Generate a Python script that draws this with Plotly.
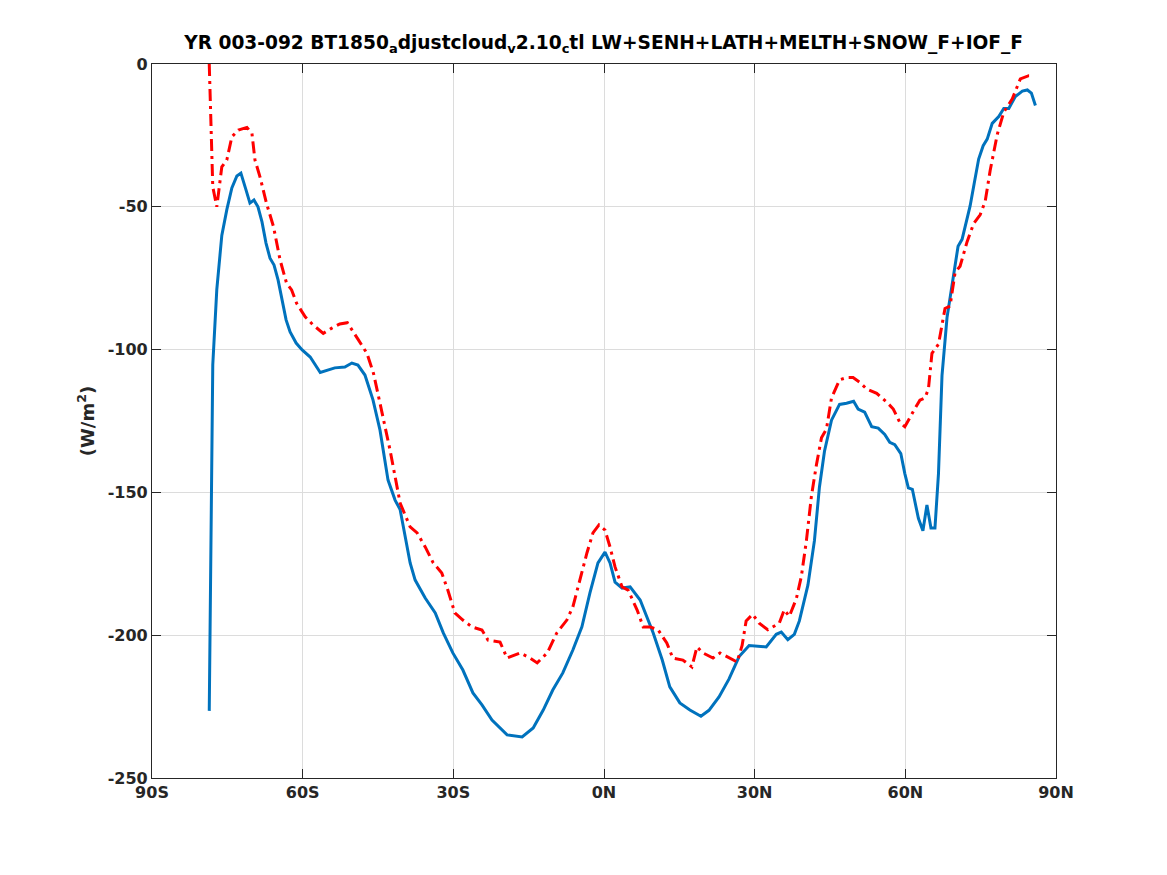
import plotly.graph_objects as go

# zonal mean surface flux, two runs
lat_blue = [-78.6, -77.9, -77.1, -76.1, -75.1, -74.1, -73.1, -72.3, -71.3, -70.5, -69.7, -68.9,
            -68.1, -67.3, -66.5, -65.7, -64.9, -64.1, -63.3, -62.5, -61.3, -60.1, -58.5, -56.5,
            -53.6, -51.6, -50.2, -49.0, -47.6, -46.0, -44.6, -43.0, -41.6, -40.6, -38.6, -37.6,
            -35.6, -33.6, -32.0, -30.1, -28.1, -26.1, -24.3, -22.3, -19.3, -16.3, -14.1, -12.1,
            -10.2, -8.2, -6.2, -4.4, -2.8, -1.2, 0.2, 1.2, 2.2, 3.6, 5.2, 7.2, 8.6, 9.8, 11.6,
            13.1, 15.1, 17.1, 19.3, 20.9, 22.9, 24.9, 26.9, 28.9, 32.3, 34.3, 35.3, 36.6, 37.9,
            38.9, 40.6, 41.9, 42.9, 43.9, 45.3, 46.9, 48.3, 49.7, 50.6, 51.9, 53.3, 54.6, 55.9,
            56.9, 57.9, 59.1, 59.9, 60.6, 61.4, 62.6, 63.5, 64.3, 65.1, 65.9, 66.6, 67.3, 68.3,
            69.6, 70.5, 71.3, 72.3, 72.9, 73.7, 74.6, 75.5, 76.3, 77.3, 78.6, 79.6, 80.6, 81.9,
            83.3, 84.3, 85.1, 85.9]
flux_blue = [-226.5, -105.4, -79.0, -60.0, -51.0, -43.4, -39.2, -38.2, -44.0, -48.7, -47.6, -50.0,
             -55.3, -62.7, -68.0, -70.4, -75.6, -82.6, -89.6, -93.8, -97.7, -100.1, -102.6, -108.0,
             -106.4, -106.1, -104.7, -105.4, -108.9, -117.6, -128.2, -145.7, -152.7, -156.0, -174.7, -180.7,
             -187.0, -192.2, -199.2, -206.2, -212.2, -220.2, -224.4, -229.7, -234.9, -235.6, -232.5, -226.2,
             -219.2, -213.2, -205.2, -197.1, -185.2, -174.7, -170.9, -174.7, -181.4, -183.5, -183.1, -187.7,
             -193.6, -199.2, -208.7, -218.1, -223.7, -226.2, -228.4, -226.3, -221.6, -215.3, -207.5, -203.6,
             -204.1, -199.7, -198.9, -201.6, -199.7, -195.0, -182.5, -166.9, -148.1, -135.6, -124.7, -119.2,
             -118.8, -118.1, -120.8, -121.9, -127.0, -127.5, -129.7, -132.5, -133.3, -136.4, -143.4, -148.4,
             -148.9, -159.1, -163.4, -154.4, -162.5, -162.5, -143.4, -109.1, -88.8, -73.1, -63.8, -61.4,
             -54.4, -49.7, -41.9, -33.3, -28.6, -26.3, -20.8, -18.4, -15.6, -15.6, -11.4, -9.5, -9.1,
             -10.2, -14.5]

lat_red = [-78.6, -78.3, -77.9, -77.1, -76.8, -76.1, -75.1, -74.1, -72.8, -71.1, -70.1, -69.5,
           -68.5, -67.2, -65.8, -64.5, -63.2, -62.2, -61.2, -59.5, -57.9, -55.9, -54.2, -52.6,
           -51.1, -49.9, -48.9, -47.2, -45.9, -44.6, -42.6, -40.6, -38.6, -37.2, -35.6, -34.0,
           -32.3, -31.1, -29.7, -28.1, -26.3, -24.3, -23.1, -20.7, -19.3, -16.7, -14.7, -13.3,
           -11.3, -9.4, -7.4, -6.2, -4.8, -3.4, -2.2, -1.0, 0.2, 1.2, 2.2, 3.6, 4.8, 6.6, 7.8,
           9.2, 10.8, 12.5, 13.7, 15.7, 17.5, 18.5, 19.7, 21.7, 23.1, 25.1, 26.5, 27.5, 28.3,
           29.6, 30.9, 32.6, 34.9, 35.9, 36.9, 38.3, 39.3, 40.3, 41.3, 42.3, 43.3, 44.3, 45.3,
           46.9, 48.3, 49.6, 50.9, 52.3, 54.3, 56.3, 57.6, 58.9, 59.9, 61.6, 62.9, 63.9, 64.6,
           65.3, 66.6, 67.9, 68.9, 69.9, 70.9, 72.3, 73.6, 74.9, 75.9, 76.9, 78.3, 79.6, 81.3,
           82.9, 84.6, 85.6]
flux_red = [0.0, -19.6, -43.0, -50.0, -45.2, -36.0, -33.6, -25.5, -23.1, -22.2, -24.3, -33.6,
            -39.5, -48.8, -57.0, -68.6, -76.8, -79.1, -83.8, -88.5, -91.4, -94.3, -92.5, -91.0,
            -90.6, -93.7, -96.6, -101.3, -108.3, -118.8, -135.2, -153.7, -162.1, -164.2, -169.1, -174.7,
            -178.2, -184.2, -192.2, -194.7, -197.1, -198.2, -201.7, -202.4, -208.0, -206.2, -208.0, -209.7,
            -206.2, -199.2, -194.7, -190.1, -180.7, -171.2, -164.2, -161.4, -163.2, -169.1, -176.1, -183.1,
            -184.2, -191.2, -197.1, -197.1, -198.2, -202.7, -208.0, -208.7, -211.1, -204.1, -206.2, -208.0,
            -206.2, -208.0, -209.4, -203.6, -195.0, -192.7, -195.8, -198.1, -195.8, -191.1, -193.4, -187.2,
            -179.4, -166.9, -151.3, -140.3, -130.9, -127.8, -116.9, -110.6, -109.8, -109.8, -111.4, -113.8,
            -115.3, -118.4, -120.8, -125.5, -127.0, -121.6, -117.7, -116.9, -113.8, -101.3, -98.1, -85.6,
            -84.8, -73.1, -70.8, -62.2, -55.9, -52.8, -48.1, -37.2, -24.7, -16.9, -12.2, -5.2, -4.1, -4.1]

x_ticks = [-90, -60, -30, 0, 30, 60, 90]
x_labels = ['90S', '60S', '30S', '0N', '30N', '60N', '90N']
y_ticks = [0, -50, -100, -150, -200, -250]
y_labels = ['0', '-50', '-100', '-150', '-200', '-250']

fig = go.Figure()

fig.add_trace(go.Scatter(
    x=lat_blue, y=flux_blue, mode='lines',
    line=dict(color='#0072BD', width=3),
    showlegend=False
))

fig.add_trace(go.Scatter(
    x=lat_red, y=flux_red, mode='lines',
    line=dict(color='#FF0000', width=3, dash='12px,5px,3px,5px'),
    showlegend=False
))

axis_font = dict(family='DejaVu Sans', size=16, color='#262626')

# page has an 8px body margin, so the figure is a bit smaller than the window
fig.update_layout(
    width=1151, height=859,
    margin=dict(l=144, r=103, t=56, b=89),
    paper_bgcolor='white', plot_bgcolor='white',
    font=dict(family='DejaVu Sans', color='#262626'),
    title=dict(
        text='<b>YR 003-092 BT1850<sub>a</sub>djustcloud<sub>v</sub>2.10<sub>c</sub>tl LW+SENH+LATH+MELTH+SNOW_F+IOF_F</b>',
        x=0.5175, xanchor='center', y=0.960, yanchor='middle',
        font=dict(family='DejaVu Sans', size=18.6, color='black')
    ),
    xaxis=dict(
        range=[-90, 90], tickvals=x_ticks, ticktext=[f'<b>{t}</b>' for t in x_labels],
        ticks='inside', ticklen=9, tickcolor='#262626', mirror='ticks',
        showline=True, linecolor='#262626', linewidth=1.2,
        showgrid=True, gridcolor='#dcdcdc', gridwidth=1,
        zeroline=False, tickfont=axis_font
    ),
    yaxis=dict(
        range=[-250, 0], tickvals=y_ticks, ticktext=[f'<b>{t}</b>' for t in y_labels],
        ticks='inside', ticklen=9, tickcolor='#262626', mirror='ticks',
        showline=True, linecolor='#262626', linewidth=1.2,
        showgrid=True, gridcolor='#dcdcdc', gridwidth=1,
        zeroline=False, tickfont=axis_font,
        title=dict(text='<b>(W/m<sup>2</sup>)</b>', font=dict(family='DejaVu Sans', size=18), standoff=8)
    )
)

fig.write_html("out.html")
